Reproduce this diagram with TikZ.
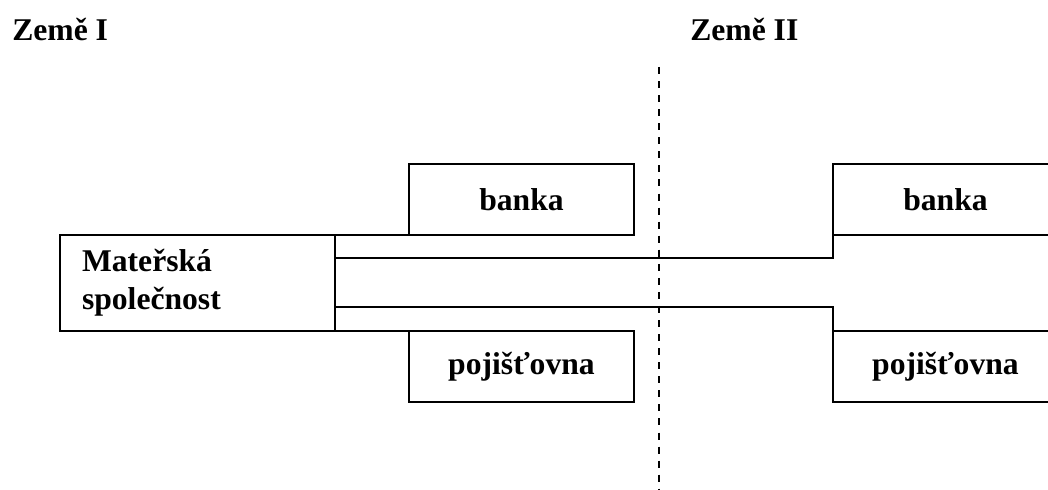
\documentclass[tikz,border=0pt]{standalone}
\usepackage{fontspec}
\setmainfont{Liberation Serif}
\usetikzlibrary{
  positioning,  % Function "of" (e.g. [right=of x])
  calc,         % Calculations $...$
}
\def\myboxw{5.625cm}
\def\myboxh{1.775cm}
\def\myhdist{1.85cm}
\def\mygap{4.975cm}
\tikzset{
  every node/.style={
    font=\fontsize{22.5}{27}\selectfont\bfseries
  },
  my box/.style={
    draw,
    line width=1.3pt,
    minimum width=\myboxw,
    minimum height=\myboxh,
    inner sep=0mm,
    outer sep=0mm
  },
  my parent/.style={
    draw,
    line width=1.3pt,
    minimum width=6.875cm,
    minimum height=2.4cm,
    text width=5.775cm,
    align=left,
    inner xsep=0.55cm,
    inner ysep=0mm,
    outer sep=0mm
  },
  my title/.style={
    anchor=base west,
    inner sep=0mm
  },
  my line/.style={
    line width=1.3pt
  },
  border/.style={
    line width=1.3pt,
    dash pattern=on 5pt off 5pt
  }
}
\begin{document}
\begin{tikzpicture}
\clip (0,0) rectangle (26.2,12.25);
\node[my title] (c1) at (0.3,11.225)  {Země I};
\node[my title] (c2) at (17.25,11.225) {Země II};
\coordinate (btop) at (16.475,10.575);
\coordinate (bbot) at (16.475,0);
\draw[border] (btop) -- (bbot);
\node[my parent] (mat) at (4.9375,5.175) {Mateřská\\společnost};
\node[my box] (bank1) [above right=0cm and \myhdist of mat.north east] {banka};
\node[my box] (ins1)  [below right=0cm and \myhdist of mat.south east] {pojišťovna};
\node[my box] (bank2) [right=\mygap of bank1] {banka};
\node[my box] (ins2)  [right=\mygap of ins1]  {pojišťovna};
\draw[my line] (mat.north east) -- (bank1.south west)
               (mat.south east) -- (ins1.north west);
\draw[my line] ($(mat.north east)!0.24!(mat.south east)$) -| (bank2.south west);
\draw[my line] ($(mat.north east)!0.75!(mat.south east)$) -| (ins2.north west);
\end{tikzpicture}
\end{document}
